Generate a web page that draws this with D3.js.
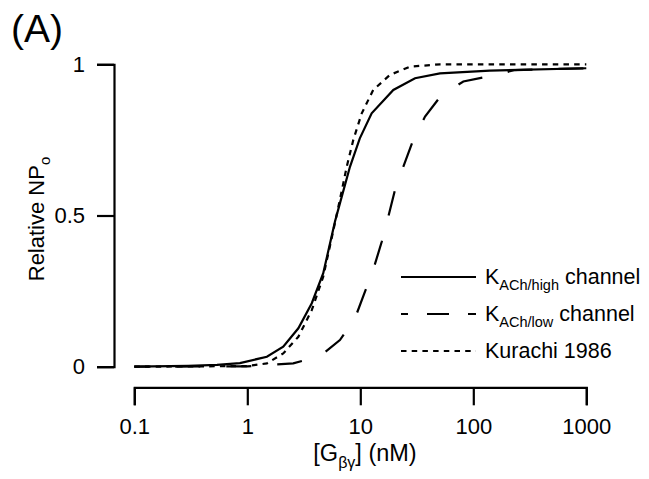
<!DOCTYPE html>
<html>
<head>
<meta charset="utf-8">
<script src="https://cdn.jsdelivr.net/npm/d3@7"></script>
<style>
  body { margin: 0; background: #fff; }
  text { font-family: "Liberation Sans", Arial, sans-serif; fill: #000; }
</style>
</head>
<body>
<div id="chart"></div>
<script>
// concentrations in nM, relative NPo
var highConc = [0.1, 0.3, 0.54, 0.86, 1.49, 2.08, 2.83, 3.72, 4.7, 5.97, 6.6, 8.1, 9.9, 12.6, 19.6, 30.5, 50.7, 140, 1000];
var highNPo  = [0, 0.003, 0.006, 0.012, 0.033, 0.066, 0.127, 0.21, 0.309, 0.48, 0.54, 0.661, 0.755, 0.838, 0.915, 0.954, 0.970, 0.979, 0.987];

var lowConc = [0.1, 1, 2.55, 4.4, 6.6, 8.97, 11.0, 13.0, 15.5, 17.7, 20.3, 24.0, 29.4, 37.4, 52.5, 81.6, 140, 234, 1000];
var lowNPo  = [0, 0.001, 0.011, 0.035, 0.088, 0.16, 0.248, 0.32, 0.414, 0.496, 0.585, 0.661, 0.75, 0.827, 0.899, 0.943, 0.961, 0.981, 0.987];

var kurConc = [0.1, 1.0, 1.49, 2.08, 2.83, 3.72, 4.7, 5.77, 6.75, 7.58, 8.67, 10.3, 13.0, 18.3, 27.5, 50.7, 1000];
var kurNPo  = [0, 0.002, 0.011, 0.044, 0.099, 0.187, 0.298, 0.45, 0.57, 0.661, 0.75, 0.838, 0.915, 0.965, 0.992, 1.0, 1.0];

var xTicks = [0.1, 1, 10, 100, 1000];
var xTickLabels = ["0.1", "1", "10", "100", "1000"];
var yTicks = [0, 0.5, 1];
var yTickLabels = ["0", "0.5", "1"];

var svg = d3.select("#chart").append("svg").attr("width", 649).attr("height", 479);

var x = d3.scaleLog().domain([0.1, 1000]).range([134.3, 586.3]);
var y = d3.scaleLinear().domain([0, 1]).range([366.7, 64.3]);

// y axis
var yAxis = svg.append("g")
  .attr("transform", "translate(114,0)")
  .call(d3.axisLeft(y).tickValues(yTicks).tickSizeOuter(0).tickSize(17).tickPadding(12)
    .tickFormat(function (d, i) { return yTickLabels[i]; }));

// x axis (offset below the plot)
var xAxis = svg.append("g")
  .attr("transform", "translate(0,387.3)")
  .call(d3.axisBottom(x).tickValues(xTicks).tickSizeOuter(0).tickSize(18).tickPadding(13)
    .tickFormat(function (d, i) { return xTickLabels[i]; }));

[xAxis, yAxis].forEach(function (g) {
  g.attr("font-size", null).attr("font-family", null);
  g.selectAll("path, line").attr("stroke", "#000").attr("stroke-width", 2.2);
  g.selectAll("text").style("font-size", "22px");
});

// curves
function makeLine(conc, vals) {
  var pts = conc.map(function (c, i) { return [c, vals[i]]; });
  return d3.line().x(function (d) { return x(d[0]); }).y(function (d) { return y(d[1]); })(pts);
}

svg.append("path").attr("d", makeLine(lowConc, lowNPo))
  .attr("fill", "none").attr("stroke", "#000").attr("stroke-width", 2.2)
  .attr("stroke-dasharray", "25,26").attr("stroke-dashoffset", 10);
svg.append("path").attr("d", makeLine(kurConc, kurNPo))
  .attr("fill", "none").attr("stroke", "#000").attr("stroke-width", 2.2)
  .attr("stroke-dasharray", "5.5,5.2");
svg.append("path").attr("d", makeLine(highConc, highNPo))
  .attr("fill", "none").attr("stroke", "#000").attr("stroke-width", 2.2);

// legend
var legendRows = [
  { main: "K", sub: "ACh/high", rest: " channel", dash: null, off: 0, y: 277 },
  { main: "K", sub: "ACh/low", rest: " channel", dash: "22,19", off: 15, y: 314 },
  { main: "Kurachi 1986", sub: "", rest: "", dash: "5.5,5.2", off: 0, y: 351 }
];
var leg = svg.append("g");
legendRows.forEach(function (r) {
  leg.append("line").attr("x1", 401).attr("x2", 476).attr("y1", r.y).attr("y2", r.y)
    .attr("stroke", "#000").attr("stroke-width", 2.2)
    .attr("stroke-dasharray", r.dash).attr("stroke-dashoffset", r.off);
  var t = leg.append("text").attr("x", 485).attr("y", r.y + 7).style("font-size", "21.5px");
  t.append("tspan").text(r.main);
  if (r.sub) {
    t.append("tspan").attr("dy", 6).style("font-size", "14.5px").text(r.sub);
    t.append("tspan").attr("dy", -6).text(r.rest);
  }
});

// axis titles
var xt = svg.append("text").attr("x", 365).attr("y", 461).attr("text-anchor", "middle").style("font-size", "23.5px");
xt.append("tspan").text("[G");
xt.append("tspan").attr("dy", 7).style("font-size", "16px").text("\u03b2\u03b3");
xt.append("tspan").attr("dy", -7).text("] (nM)");

var yt = svg.append("text").attr("transform", "translate(44,219) rotate(-90)")
  .attr("text-anchor", "middle").style("font-size", "22px");
yt.append("tspan").text("Relative NP");
yt.append("tspan").attr("dy", 6).style("font-size", "15px").text("o");

svg.append("text").attr("x", 11).attr("y", 42).style("font-size", "39px").text("(A)");
</script>
</body>
</html>
